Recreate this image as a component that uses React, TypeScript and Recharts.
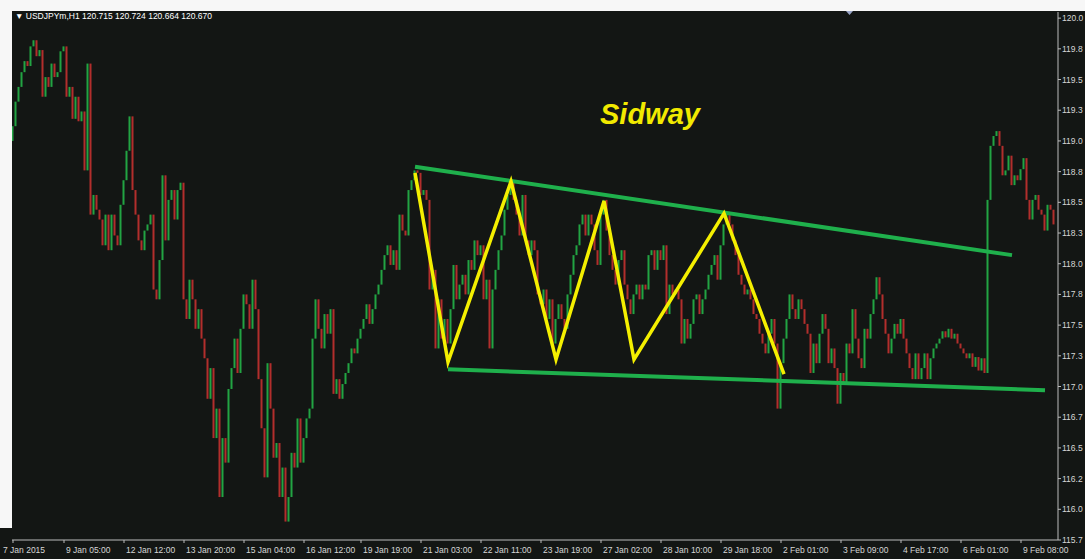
import { ComposedChart, Bar, Line, XAxis, YAxis } from 'recharts';

// USDJPYm H1, 7 Jan - 9 Feb 2015, one close every bar (open = previous close)
const firstOpen = 119.0;
const closes = [
    119.12, 119.32, 119.44, 119.56, 119.65, 119.61, 119.77, 119.82, 119.69, 119.74,
    119.36, 119.52, 119.44, 119.63, 119.52, 119.56, 119.73, 119.77, 119.36, 119.44,
    119.18, 119.36, 119.16, 119.24, 118.76, 119.63, 118.4, 118.56, 118.44, 118.36,
    118.15, 118.4, 118.11, 118.4, 118.23, 118.15, 118.48, 118.68, 118.92, 119.2,
    118.6, 118.4, 118.19, 118.11, 118.27, 118.32, 118.4, 117.79, 117.71, 118.03,
    118.72, 118.19, 118.52, 118.6, 118.36, 118.6, 118.66, 117.71, 117.55, 117.87,
    117.71, 117.47, 117.63, 117.39, 117.23, 116.9, 117.15, 116.58, 116.82, 116.1,
    116.58, 116.38, 116.98, 117.15, 117.39, 117.11, 117.47, 117.75, 117.67, 117.47,
    117.87, 117.63, 117.06, 116.66, 116.26, 117.19, 116.82, 116.42, 116.54, 116.1,
    116.34, 115.9, 116.1, 116.46, 116.34, 116.74, 116.38, 116.58, 116.74, 116.82,
    117.39, 117.71, 117.47, 117.31, 117.59, 117.43, 117.63, 116.94, 117.06, 116.9,
    117.02, 117.11, 117.19, 117.31, 117.27, 117.39, 117.47, 117.55, 117.67, 117.51,
    117.63, 117.75, 117.83, 117.95, 118.07, 118.15, 117.99, 118.11, 117.95, 118.4,
    118.27, 118.23, 118.6, 118.68, 118.76, 118.74, 118.56, 118.6, 118.52, 117.79,
    117.95, 117.31, 117.71, 117.39, 117.55, 117.35, 117.63, 117.99, 117.71, 117.83,
    117.91, 117.75, 118.03, 117.95, 118.19, 118.07, 118.15, 117.71, 117.87, 117.31,
    117.79, 117.95, 118.11, 118.23, 118.44, 118.56, 118.68, 118.52, 118.4, 118.23,
    118.56, 118.19, 118.07, 118.19, 118.11, 117.75, 117.67, 117.79, 117.55, 117.71,
    117.35, 117.55, 117.67, 117.55, 117.47, 117.75, 117.91, 118.07, 118.15, 118.32,
    118.4, 118.23, 118.4, 118.32, 118.11, 117.99, 118.4, 118.52, 118.27, 118.07,
    117.95, 117.83, 118.03, 118.11, 117.83, 117.71, 117.59, 117.75, 117.83, 117.71,
    117.83, 117.79, 118.07, 118.11, 117.95, 118.11, 118.03, 118.15, 117.59, 117.83,
    117.75, 117.79, 117.71, 117.35, 117.55, 117.39, 117.51, 117.71, 117.75, 117.59,
    117.71, 117.79, 117.91, 117.99, 118.07, 117.87, 118.15, 118.32, 118.4, 118.32,
    118.19, 118.07, 117.91, 117.83, 117.75, 117.79, 117.71, 117.59, 117.55, 117.43,
    117.35, 117.27, 117.43, 117.55, 117.35, 116.82, 117.19, 117.39, 117.55, 117.75,
    117.63, 117.55, 117.71, 117.63, 117.51, 117.43, 117.11, 117.35, 117.19, 117.43,
    117.59, 117.47, 117.19, 117.31, 117.15, 116.86, 117.11, 117.02, 117.35, 117.27,
    117.63, 117.39, 117.23, 117.15, 117.47, 117.39, 117.59, 117.71, 117.89, 117.75,
    117.55, 117.43, 117.27, 117.39, 117.51, 117.43, 117.55, 117.39, 117.27, 117.15,
    117.06, 117.27, 117.06, 117.15, 117.27, 117.06, 117.23, 117.31, 117.35, 117.39,
    117.45, 117.4, 117.47, 117.39, 117.43, 117.35, 117.31, 117.27, 117.23, 117.27,
    117.16, 117.24, 117.13, 117.23, 117.11, 118.52, 118.96, 119.04, 119.08, 118.96,
    118.72, 118.76, 118.88, 118.64, 118.72, 118.68, 118.77, 118.86, 118.52, 118.36,
    118.52, 118.56, 118.44, 118.4, 118.27, 118.48, 118.44, 118.32,
];

const timeLabels = [
    '7 Jan 2015', '9 Jan 05:00', '12 Jan 12:00', '13 Jan 20:00', '15 Jan 04:00', '16 Jan 12:00',
    '19 Jan 19:00', '21 Jan 03:00', '22 Jan 11:00', '23 Jan 19:00', '27 Jan 02:00', '28 Jan 10:00',
    '29 Jan 18:00', '2 Feb 01:00', '3 Feb 09:00', '4 Feb 17:00', '6 Feb 01:00', '9 Feb 08:00',
];
const timeIdx = [0, 17, 37, 57, 77, 97, 116, 136, 156, 176, 196, 216, 236, 256, 276, 296, 316, 336];

const priceTicks = [
    115.75, 116.0, 116.25, 116.5, 116.75, 117.0, 117.25, 117.5, 117.75,
    118.0, 118.25, 118.5, 118.75, 119.0, 119.25, 119.5, 119.75, 120.0,
];
// labels as printed on the price scale
const priceLabels = [
    '115.7', '116.0', '116.2', '116.5', '116.7', '117.0', '117.3', '117.5', '117.8',
    '118.0', '118.3', '118.5', '118.8', '119.0', '119.3', '119.5', '119.8', '120.0',
];

// hand drawn annotations
const zigIdx = [134, 145, 166, 181, 197, 207, 237, 257];
const zigPrice = [118.74, 117.2, 118.67, 117.22, 118.51, 117.22, 118.41, 117.1];
const upperIdx = [134, 333];
const upperPrice = [118.79, 118.07];
const lowerIdx = [145, 344];
const lowerPrice = [117.14, 116.97];

const GREEN = '#22a443';
const RED = '#b22e2c';
const BG = '#131614';
const AXIS = '#bcbcbc';
const TEXT = '#d6d6d6';
const FONT = '"Liberation Sans", Arial, sans-serif';

const candles = closes.map((c, i) => {
    const o = i === 0 ? firstOpen : closes[i - 1];
    return { i, o, c, range: [Math.min(o, c), Math.max(o, c)], up: c >= o };
});

const zigData = zigIdx.map((i, k) => ({ i, v: zigPrice[k] }));
const upperData = upperIdx.map((i, k) => ({ i, v: upperPrice[k] }));
const lowerData = lowerIdx.map((i, k) => ({ i, v: lowerPrice[k] }));

function CandleShape(props: any) {
    const { x, y, width, height, payload } = props;
    if (x == null || y == null) return null;
    const top = Math.min(y, y + height);
    const h = Math.max(Math.abs(height), 2);
    return <rect x={x} y={top} width={width} height={h} fill={payload.up ? GREEN : RED} />;
}

function TimeTick({ x, y, payload, index }: any) {
    const label = timeLabels[timeIdx.indexOf(payload.value)];
    const dx = index === 0 ? -10 : 2;
    return (
        <text x={x + dx} y={y + 8} fill={TEXT} fontSize={8.5} fontFamily={FONT} textAnchor="start">
            {label}
        </text>
    );
}

export default function App() {
    return (
        <div style={{ position: 'absolute', left: 0, top: 0, width: 1085, height: 559, background: '#f7f7f7', overflow: 'hidden' }}>
            <div style={{ position: 'absolute', left: 12, top: 11, width: 1073, height: 548, background: BG }} />
            <div style={{ position: 'absolute', left: 0, top: 528, width: 12, height: 31, background: BG }} />
            <div style={{ position: 'absolute', left: 0, top: 0 }}>
                <ComposedChart width={1085} height={559} data={candles} margin={{ top: 12, right: 0, bottom: 0, left: 12 }}>
                    <XAxis
                        type="number"
                        dataKey="i"
                        domain={[-1 / 3, 348 + 1 / 3]}
                        ticks={timeIdx}
                        interval={0}
                        height={19}
                        tickSize={3}
                        tickMargin={2}
                        axisLine={{ stroke: AXIS }}
                        tickLine={{ stroke: AXIS }}
                        tick={<TimeTick />}
                        allowDataOverflow
                    />
                    <YAxis
                        orientation="right"
                        type="number"
                        domain={[115.75, 120.05]}
                        ticks={priceTicks}
                        interval={0}
                        width={27}
                        tickSize={3}
                        tickMargin={1}
                        axisLine={{ stroke: AXIS }}
                        tickLine={{ stroke: AXIS }}
                        tick={{ fill: TEXT, fontSize: 8.5, fontFamily: FONT }}
                        tickFormatter={(v: number) => priceLabels[priceTicks.indexOf(v)]}
                        allowDataOverflow
                    />
                    <Bar dataKey="range" barSize={2} shape={<CandleShape />} isAnimationActive={false} />
                    <Line data={upperData} dataKey="v" type="linear" stroke="#1fb04c" strokeWidth={4} dot={false} isAnimationActive={false} />
                    <Line data={lowerData} dataKey="v" type="linear" stroke="#1fb04c" strokeWidth={4} dot={false} isAnimationActive={false} />
                    <Line data={zigData} dataKey="v" type="linear" stroke="#f4ef00" strokeWidth={3.5} dot={false} isAnimationActive={false} />
                </ComposedChart>
            </div>
            <svg width={1085} height={559} style={{ position: 'absolute', left: 0, top: 0, pointerEvents: 'none' }}>
                <text x={15} y={19} fill="#ffffff" fontSize={8.5} fontFamily={FONT}>
                    {'\u25BC USDJPYm,H1  120.715 120.724 120.664 120.670'}
                </text>
                <polygon points="846,11 853,11 849.5,15" fill="#9aa6c8" />
                <text x={600} y={124} fill="#f2ea00" fontSize={29} fontWeight="bold" fontStyle="italic" fontFamily={FONT}>
                    Sidway
                </text>
            </svg>
        </div>
    );
}
